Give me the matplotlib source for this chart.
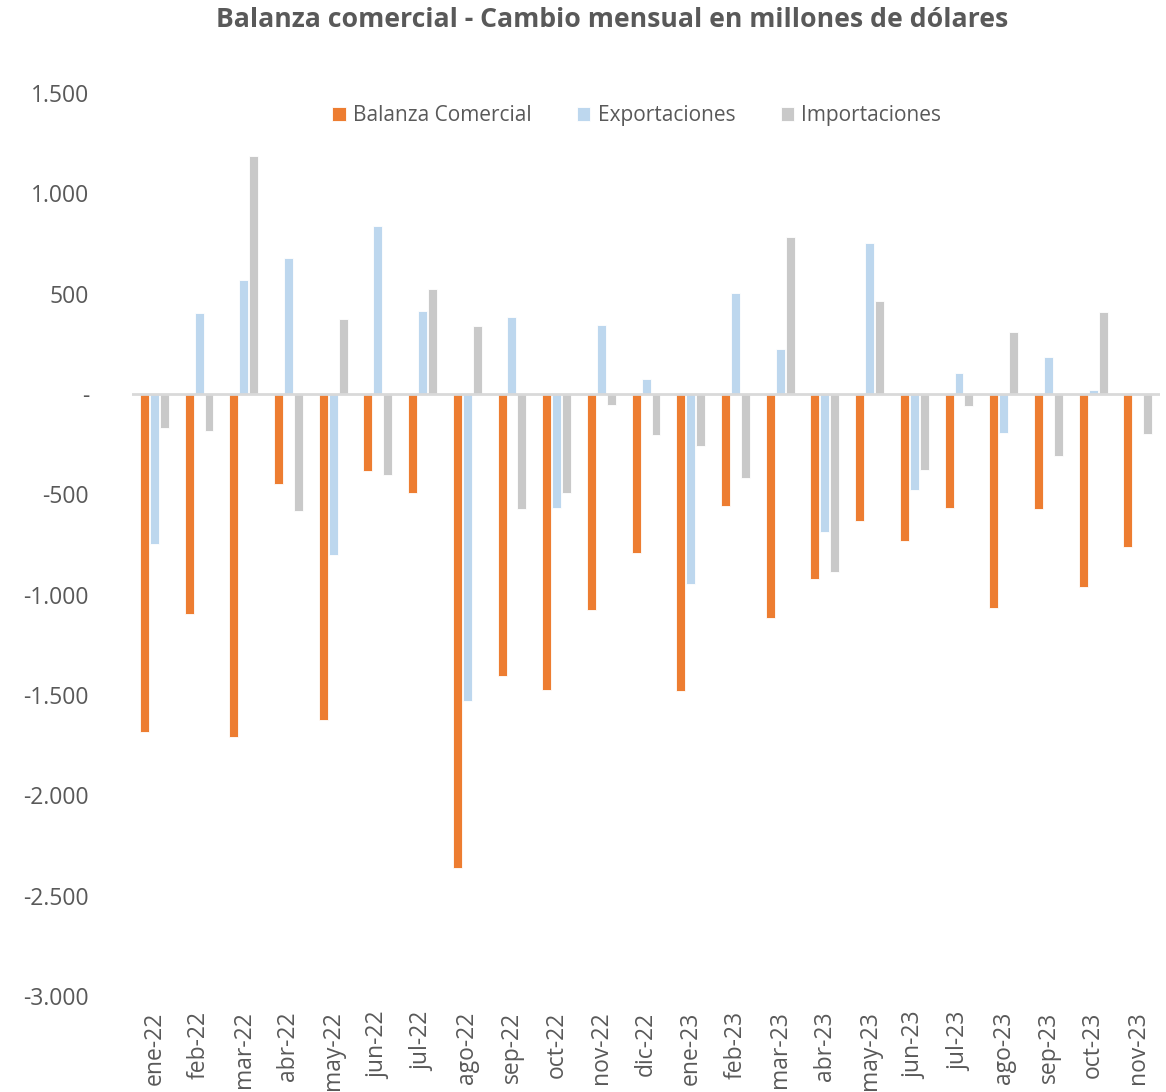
import matplotlib
matplotlib.use("Agg")
import matplotlib.pyplot as plt
from matplotlib.ticker import FuncFormatter, MultipleLocator
import numpy as np

months = ["ene-22", "feb-22", "mar-22", "abr-22", "may-22", "jun-22", "jul-22",
          "ago-22", "sep-22", "oct-22", "nov-22", "dic-22", "ene-23", "feb-23",
          "mar-23", "abr-23", "may-23", "jun-23", "jul-23", "ago-23", "sep-23",
          "oct-23", "nov-23"]

balanza = [-1685, -1095, -1710, -450, -1625, -385, -495, -2360, -1405, -1475,
           -1075, -790, -1480, -560, -1115, -920, -635, -730, -570, -1065,
           -575, -960, -760]
exportaciones = [-745, 405, 568, 680, -800, 835, 415, -1530, 385, -570,
                 345, 75, -945, 505, 225, -690, 755, -480, 105, -195,
                 185, 20, 0]
importaciones = [-168, -185, 1185, -585, 375, -405, 525, 340, -575, -495,
                 -55, -205, -260, -420, 785, -885, 465, -380, -60, 310,
                 -310, 410, -200]

orange = "#ED7D31"
blue = "#BDD7EE"
grey = "#C9C9C9"
txt = "#595959"

plt.rcParams["font.family"] = ["Open Sans", "DejaVu Sans"]

fig = plt.figure(figsize=(11.66, 10.92), dpi=100)
ax = fig.add_axes([0.1132, 0.0879, 0.8818, 0.8269])

x = np.arange(len(months))
w = 0.2
off = 0.222
ax.bar(x - off, balanza, w, color=orange, edgecolor="white", linewidth=0.6,
       label="Balanza Comercial", zorder=2)
ax.bar(x, exportaciones, w, color=blue, edgecolor="white", linewidth=0.6,
       label="Exportaciones", zorder=2)
ax.bar(x + off, importaciones, w, color=grey, edgecolor="white", linewidth=0.6,
       label="Importaciones", zorder=2)

ax.axhline(0, color="#D9D9D9", linewidth=2, zorder=3)

ax.set_xlim(-0.5, len(months) - 0.5)
ax.set_ylim(-3000, 1500)
ax.yaxis.set_major_locator(MultipleLocator(500))


def fmt(v, pos):
    if abs(v) < 1e-9:
        return "-"
    s = f"{abs(int(round(v))):,}".replace(",", ".")
    return ("-" if v < 0 else "") + s


ax.yaxis.set_major_formatter(FuncFormatter(fmt))
for s in ax.spines.values():
    s.set_visible(False)

ax.set_xticks(x)
ax.set_xticklabels(months, rotation=90, va="top", ha="center",
                   fontsize=16.5, color=txt)
ax.tick_params(axis="x", length=0, pad=11)
ax.tick_params(axis="y", length=0, pad=31, labelsize=16.5, labelcolor=txt)

leg = ax.legend(loc="center", bbox_to_anchor=(0.491, 0.975), ncol=3,
                frameon=False, handlelength=0.65, handleheight=0.65,
                handletextpad=0.35, columnspacing=2.17,
                prop={"size": 15})
for t in leg.get_texts():
    t.set_color(txt)

fig.text(0.525, 0.982, "Balanza comercial - Cambio mensual en millones de dólares",
         ha="center", va="center", fontsize=19.2, fontweight="bold", color=txt)

fig.savefig("out.png", dpi=100)
